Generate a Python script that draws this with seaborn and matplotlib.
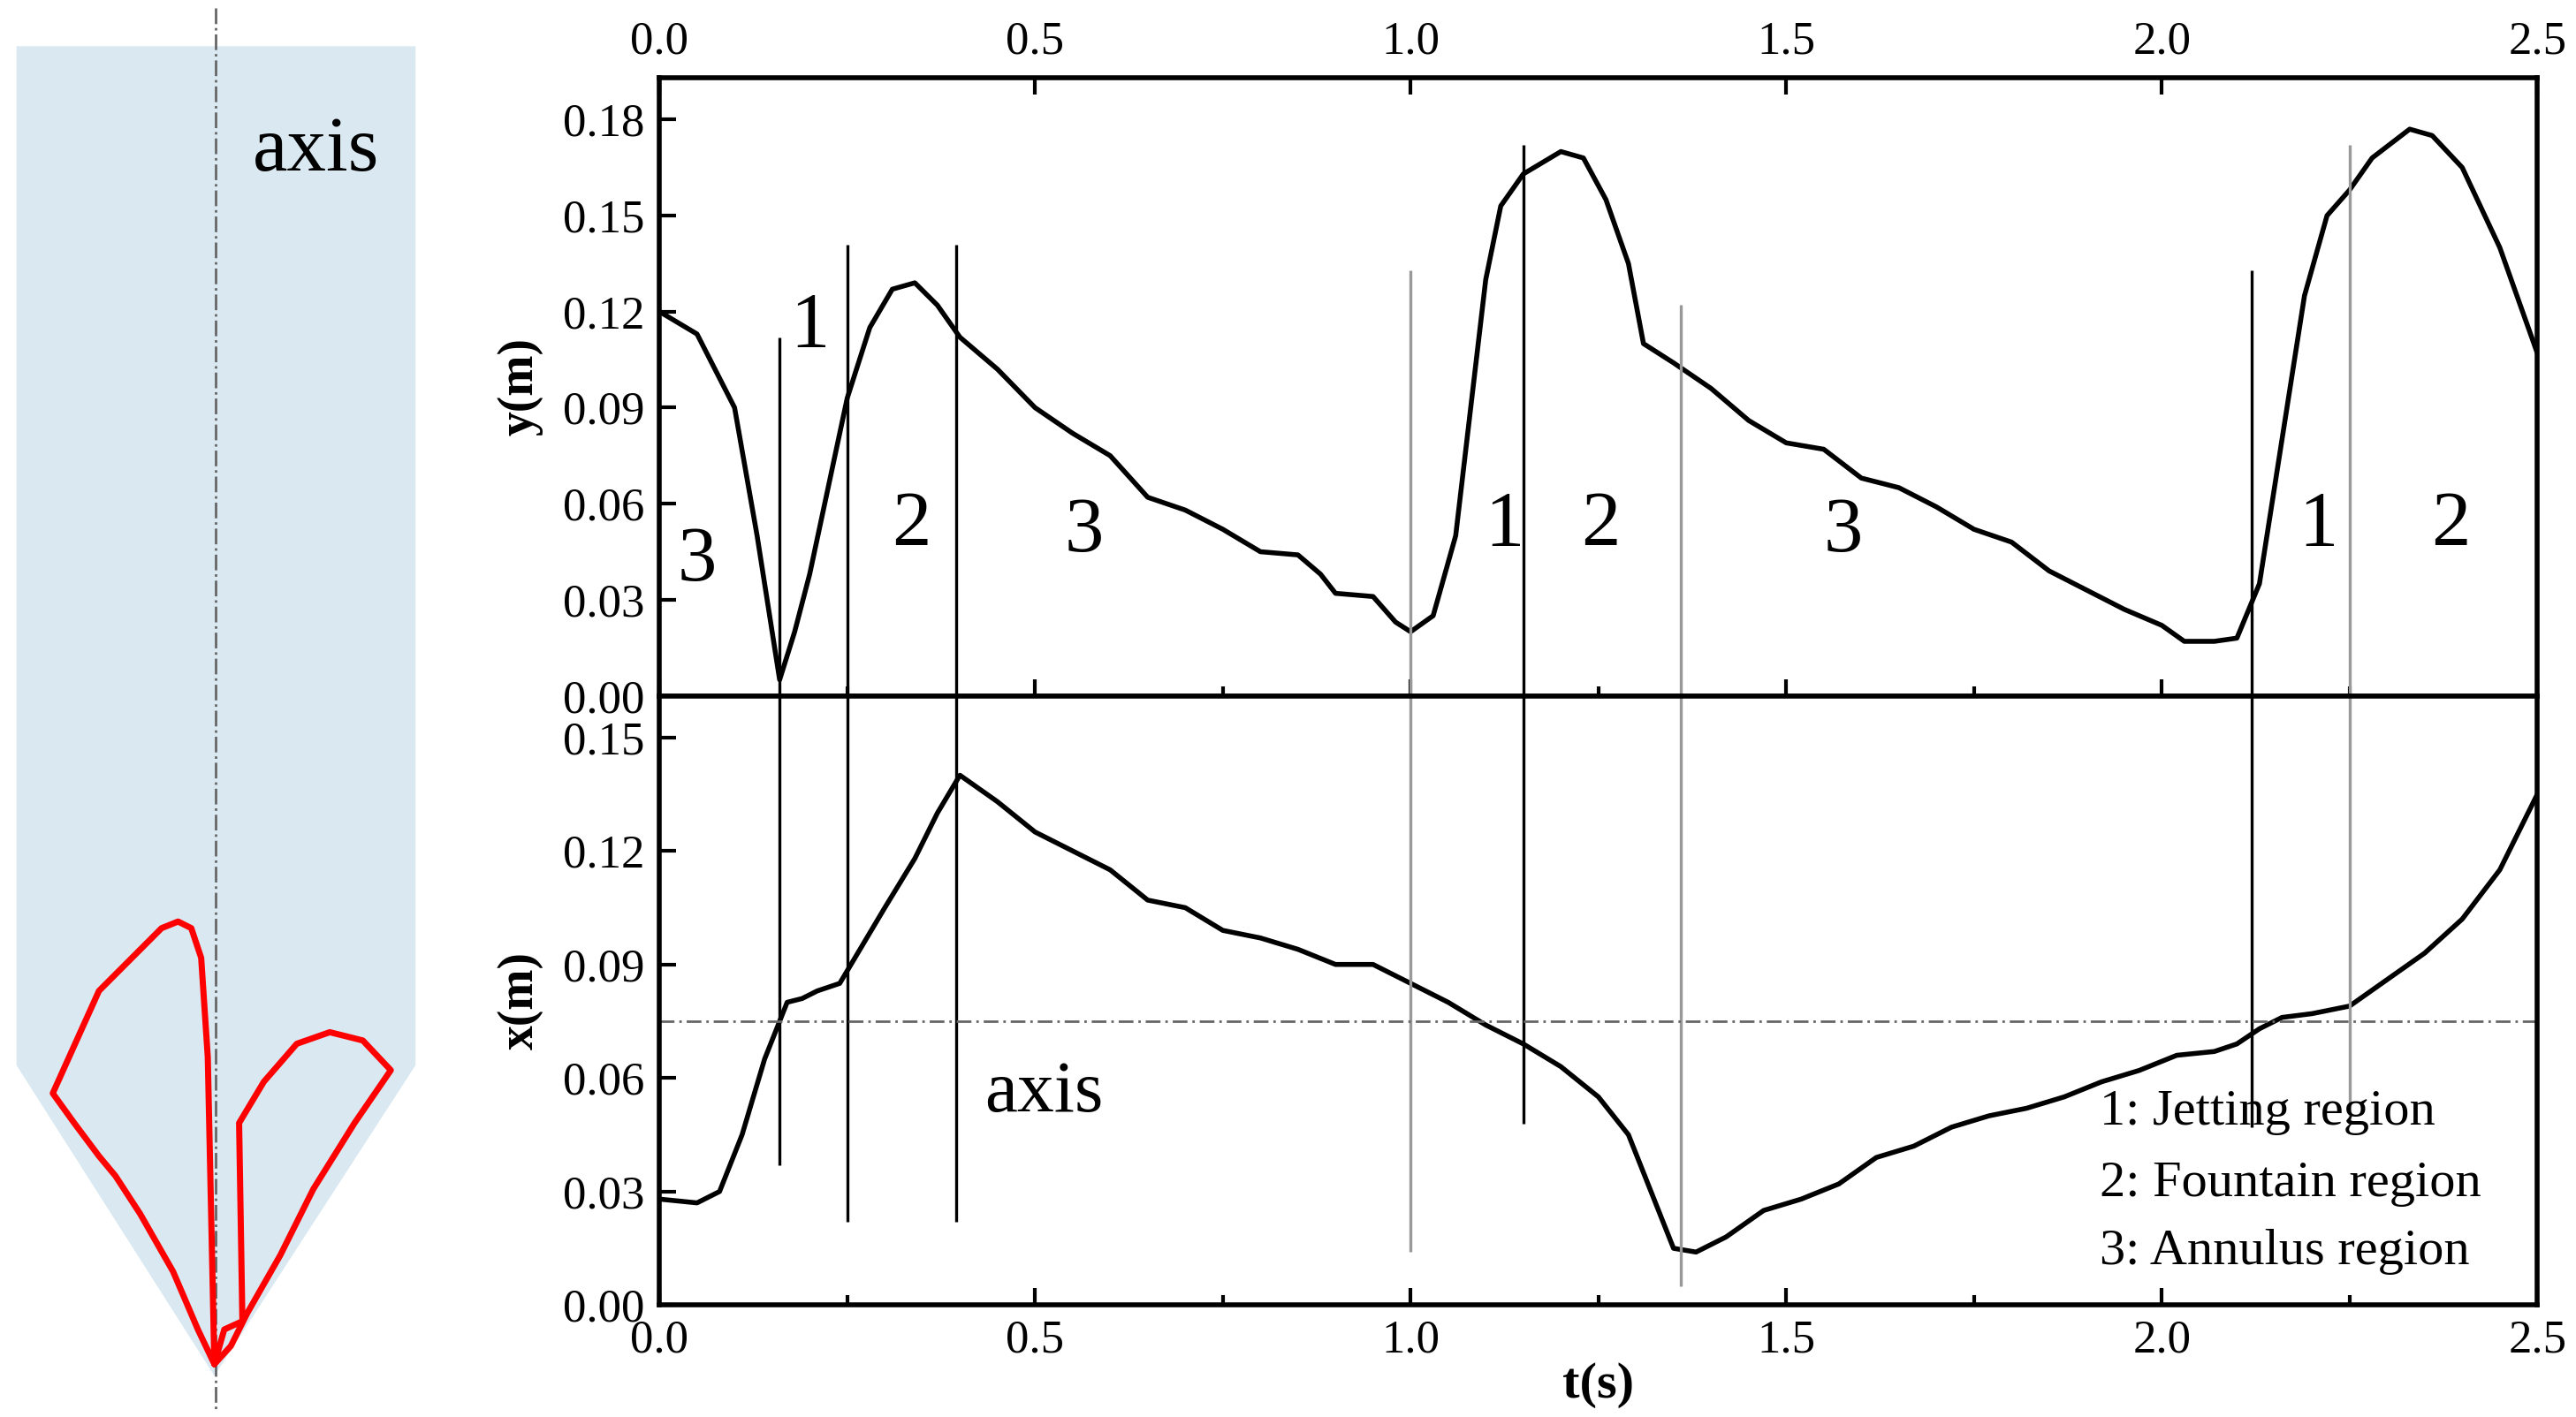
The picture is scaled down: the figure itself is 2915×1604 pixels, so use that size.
import matplotlib
matplotlib.use("Agg")
import matplotlib.pyplot as plt
import seaborn as sns
import numpy as np
from matplotlib.patches import Polygon

sns.set_style("ticks")
plt.rcParams["font.family"] = ["Liberation Serif", "DejaVu Serif"]
plt.rcParams["xtick.direction"] = "in"
plt.rcParams["ytick.direction"] = "in"
for k in ["text.color", "axes.labelcolor", "xtick.color", "ytick.color", "axes.edgecolor"]:
    plt.rcParams[k] = "black"

# y(m) trajectory
t_y = [0, 0.05, 0.1, 0.13, 0.16, 0.18, 0.2, 0.22, 0.25, 0.28, 0.31, 0.34, 0.37, 0.4, 0.45,
       0.5, 0.55, 0.6, 0.65, 0.7, 0.75, 0.8, 0.85, 0.88, 0.9, 0.95, 0.98, 1.0, 1.03, 1.06,
       1.08, 1.1, 1.12, 1.15, 1.2, 1.23, 1.26, 1.29, 1.31, 1.35, 1.4, 1.45, 1.5, 1.55, 1.6,
       1.65, 1.7, 1.75, 1.8, 1.85, 1.9, 1.95, 2.0, 2.03, 2.07, 2.1, 2.13, 2.16, 2.19, 2.22,
       2.25, 2.28, 2.33, 2.36, 2.4, 2.45, 2.5]
y_val = [0.12, 0.113, 0.09, 0.05, 0.005, 0.02, 0.038, 0.06, 0.093, 0.115, 0.127, 0.129, 0.122,
         0.112, 0.102, 0.09, 0.082, 0.075, 0.062, 0.058, 0.052, 0.045, 0.044, 0.038, 0.032,
         0.031, 0.023, 0.02, 0.025, 0.05, 0.09, 0.13, 0.153, 0.163, 0.17, 0.168, 0.155, 0.135,
         0.11, 0.104, 0.096, 0.086, 0.079, 0.077, 0.068, 0.065, 0.059, 0.052, 0.048, 0.039,
         0.033, 0.027, 0.022, 0.017, 0.017, 0.018, 0.035, 0.08, 0.125, 0.15, 0.158, 0.168,
         0.177, 0.175, 0.165, 0.14, 0.107]

# x(m) trajectory
t_x = [0, 0.05, 0.08, 0.11, 0.14, 0.17, 0.19, 0.21, 0.24, 0.27, 0.3, 0.34, 0.37, 0.4, 0.45,
       0.5, 0.55, 0.6, 0.65, 0.7, 0.75, 0.8, 0.85, 0.9, 0.95, 1.0, 1.05, 1.1, 1.15, 1.2, 1.25,
       1.29, 1.32, 1.35, 1.38, 1.42, 1.47, 1.52, 1.57, 1.62, 1.67, 1.72, 1.77, 1.82, 1.87,
       1.92, 1.97, 2.02, 2.07, 2.1, 2.13, 2.16, 2.2, 2.25, 2.3, 2.35, 2.4, 2.45, 2.5]
x_val = [0.028, 0.027, 0.03, 0.045, 0.065, 0.08, 0.081, 0.083, 0.085, 0.095, 0.105, 0.118,
         0.13, 0.14, 0.133, 0.125, 0.12, 0.115, 0.107, 0.105, 0.099, 0.097, 0.094, 0.09, 0.09,
         0.085, 0.08, 0.074, 0.069, 0.063, 0.055, 0.045, 0.03, 0.015, 0.014, 0.018, 0.025,
         0.028, 0.032, 0.039, 0.042, 0.047, 0.05, 0.052, 0.055, 0.059, 0.062, 0.066, 0.067,
         0.069, 0.073, 0.076, 0.077, 0.079, 0.086, 0.093, 0.102, 0.115, 0.135]

axis_x = 0.075

# region boundaries: time, top end (y), bottom end (x), colour
bound_t = [0.16, 0.25, 0.395, 1.0, 1.15, 1.36, 2.12, 2.25]
bound_top = [0.112, 0.141, 0.141, 0.133, 0.172, 0.122, 0.133, 0.172]
bound_bot = [0.037, 0.022, 0.022, 0.014, 0.048, 0.005, 0.047, 0.048]
bound_col = ["k", "k", "k", "0.6", "k", "0.6", "k", "0.6"]

region_t = [0.05, 0.2, 0.335, 0.565, 1.125, 1.253, 1.576, 2.209, 2.385]
region_y = [0.042, 0.115, 0.053, 0.051, 0.053, 0.053, 0.051, 0.053, 0.053]
region_lbl = ["3", "1", "2", "3", "1", "2", "3", "1", "2"]

legend_lines = ["1: Jetting region", "2: Fountain region", "3: Annulus region"]
legend_y = [0.051, 0.032, 0.014]

# particle path in the spouted bed sketch (pixel-like coordinates, y downward)
path_x = [130, 126, 122, 116, 108, 98, 85, 60, 32, 45, 60, 70, 85, 105, 120, 130,
          136, 147, 145, 160, 180, 200, 220, 237, 215, 190, 170, 150, 140, 130]
path_y = [826, 640, 580, 562, 558, 562, 575, 600, 662, 680, 700, 712, 735, 770, 805, 826,
          805, 800, 680, 655, 632, 625, 630, 648, 680, 720, 760, 795, 815, 826]
bed_x = [10, 252, 252, 130, 10]
bed_y = [28, 28, 645, 833, 645]

fig = plt.figure(figsize=(14.575, 8.02), dpi=200)

# sketch
axs = fig.add_axes([0, 0, 0.185, 1])
axs.set_xlim(0, 289)
axs.set_ylim(858, 0)
axs.axis("off")
axs.add_patch(Polygon(np.column_stack([bed_x, bed_y]), closed=True, fc="#d9e8f1", ec="none"))
axs.plot([131, 131], [5, 855], color="0.4", lw=1, ls="-.")
axs.plot(path_x, path_y, color="red", lw=2.5)
axs.text(153, 92, "axis", fontsize=32, va="center")

ax1 = fig.add_axes([0.256, 0.509, 0.729, 0.436])
ax2 = fig.add_axes([0.256, 0.079, 0.729, 0.430], sharex=ax1)

sns.lineplot(x=t_y, y=y_val, ax=ax1, color="k", lw=2)
sns.lineplot(x=t_x, y=x_val, ax=ax2, color="k", lw=2)

ax1.set_xlim(0, 2.5)
ax1.set_ylim(0, 0.193)
ax2.set_ylim(0, 0.161)
ax1.set_yticks(np.arange(0, 0.181, 0.03))
ax2.set_yticks(np.arange(0, 0.151, 0.03))
ax1.set_xticks(np.arange(0, 2.51, 0.5))
ax1.set_xticks(np.arange(0.25, 2.5, 0.5), minor=True)

ax1.tick_params(axis="x", top=True, labeltop=True, bottom=True, labelbottom=False)
ax2.tick_params(axis="x", labelbottom=True)
for ax in (ax1, ax2):
    ax.tick_params(which="major", length=7, width=1.5, labelsize=19, pad=6)
    ax.tick_params(which="minor", length=4, width=1.5)
    ax.yaxis.set_major_formatter(matplotlib.ticker.FormatStrFormatter("%.2f"))
    ax.xaxis.set_major_formatter(matplotlib.ticker.FormatStrFormatter("%.1f"))
    for s in ax.spines.values():
        s.set_linewidth(2)
        s.set_visible(True)
ax2.tick_params(axis="x", which="both", top=False)

ax1.set_ylabel("y(m)", fontsize=20, fontweight="bold", labelpad=8)
ax2.set_ylabel("x(m)", fontsize=20, fontweight="bold", labelpad=8)
ax2.set_xlabel("t(s)", fontsize=21, fontweight="bold", labelpad=0)

for tb, yt, xb, c in zip(bound_t, bound_top, bound_bot, bound_col):
    ax1.vlines(tb, 0, yt, color=c, lw=1.2, clip_on=False)
    ax2.vlines(tb, xb, 0.161, color=c, lw=1.2, clip_on=False)

ax2.axhline(axis_x, color="0.4", lw=1, ls=(0, (6, 2, 1, 2)))
ax2.text(0.512, 0.0557, "axis", fontsize=30, ha="center", va="center")

for tr, yr, lb in zip(region_t, region_y, region_lbl):
    ax1.text(tr, yr, lb, fontsize=32, ha="center", va="center")

for ln, ly in zip(legend_lines, legend_y):
    ax2.text(1.917, ly, ln, fontsize=21, ha="left", va="center")

fig.savefig("out.png", dpi=200)
